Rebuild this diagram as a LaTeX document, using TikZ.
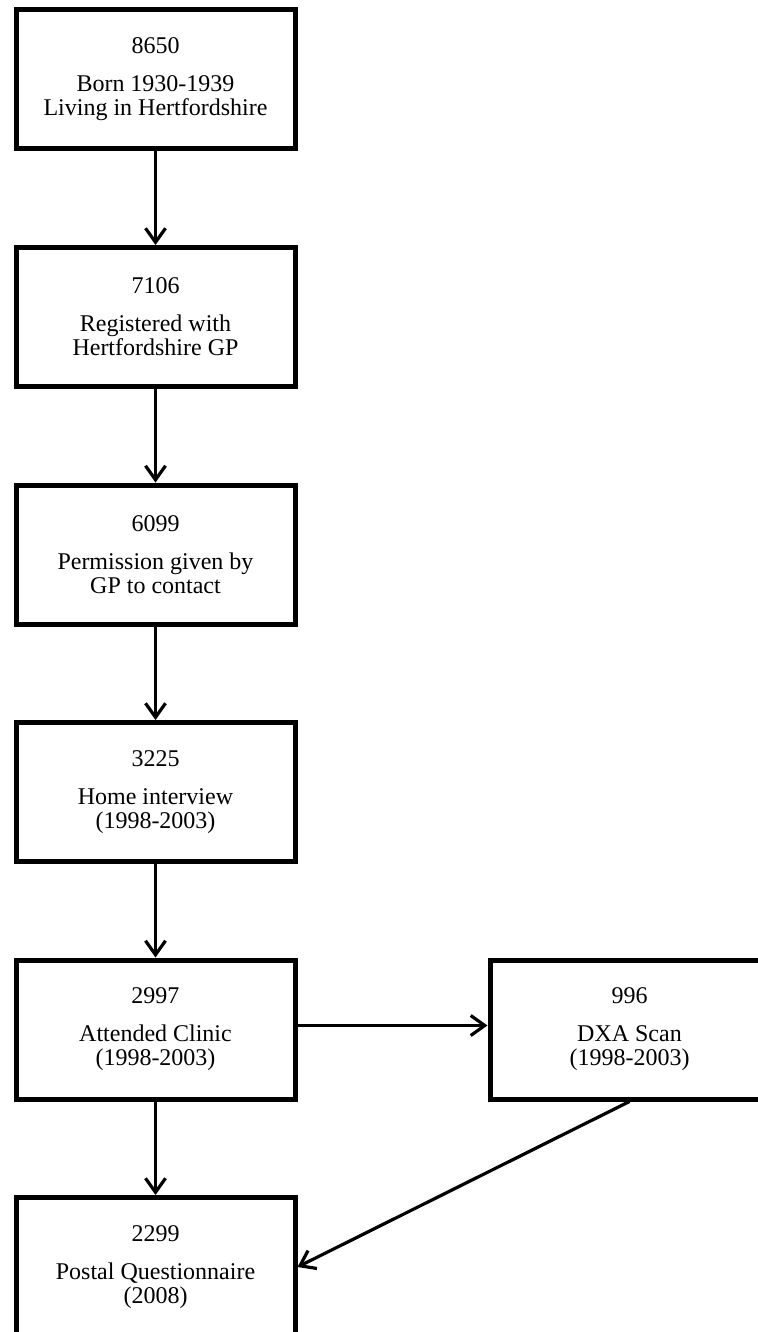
\documentclass[tikz,border=0pt]{standalone}
\usepackage{fontspec}
\setmainfont{Liberation Serif}
\usepackage{tikz}
\usetikzlibrary{calc,arrows.meta}

\tikzset{
  stage/.style={draw, line width=2.5pt, minimum width=139.5pt, minimum height=69.5pt,
                inner sep=0pt, align=center, font=\fontsize{12}{12}\selectfont},
  flow/.style={line width=1.6pt, -{Straight Barb[length=7pt,width=10pt,line width=1.6pt]}}
}

\begin{document}
\begin{tikzpicture}[x=0.5pt,y=-0.5pt]
                      \useasboundingbox (0,0) rectangle (758,1332);
                      \clip (0,0) rectangle (758,1332);
                      \node[stage] (born) at (155.5,79.5) {8650\\[7pt]Born 1930-1939\\Living in Hertfordshire};
                      \node[stage] (gp) at (155.5,317) {7106\\[7pt]Registered with\\Hertfordshire GP};
                      \node[stage] (perm) at (155.5,554.5) {6099\\[7pt]Permission given by\\GP to contact};
                      \node[stage] (home) at (155.5,792) {3225\\[7pt]Home interview\\(1998-2003)};
                      \node[stage] (clinic) at (155.5,1029.5) {2997\\[7pt]Attended Clinic\\(1998-2003)};
                      \node[stage] (dxa) at (629.5,1029.5) {996\\[7pt]DXA Scan\\(1998-2003)};
                      \node[stage] (postal) at (155.5,1267) {2299\\[7pt]Postal Questionnaire\\(2008)};
                      \draw[flow] (born) -- (gp);
                      \draw[flow] (gp) -- (perm);
                      \draw[flow] (perm) -- (home);
                      \draw[flow] (home) -- (clinic);
                      \draw[flow] ([yshift=2pt]clinic.east) -- ([yshift=2pt]dxa.west);
                      \draw[flow] (clinic) -- (postal);
                      \draw[flow] (dxa.south) -- (postal.east);
                  \end{tikzpicture}
\end{document}
